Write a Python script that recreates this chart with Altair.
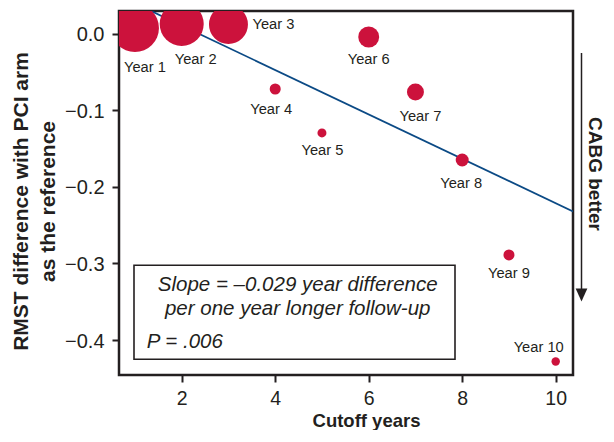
import altair as alt
import pandas as pd

# ---------------- data ----------------
years = ["Year 1", "Year 2", "Year 3", "Year 4", "Year 5",
         "Year 6", "Year 7", "Year 8", "Year 9", "Year 10"]
cutoff_years = [1, 2, 3, 4, 5, 6, 7, 8, 9, 10]
rmst_difference = [0.0074, 0.0127, 0.0120, -0.0722, -0.1296,
                   -0.0043, -0.0761, -0.1649, -0.2889, -0.4282]
weights = [100, 84, 66, 5.3, 3.5, 19, 12.5, 7.3, 5.3, 3.1]   # relative bubble weights
x_ticks = [2, 4, 6, 8, 10]
y_ticks = [0.0, -0.1, -0.2, -0.3, -0.4]
slope = -0.029
intercept = 0.0686
annotation_lines = ["Slope = \u20130.029 year difference", "per one year longer follow-up"]
p_text = "P = .006"
x_title = "Cutoff years"
y_title = ["RMST difference with PCI arm", "as the reference"]
side_label = "CABG better"

# ---------------- layout / style ----------------
FONT = "Liberation Sans"
INK = "#231f20"
RED = "#cc123c"
BLUE = "#0b4a85"
W, H = 454, 364
X_DOM = [0.6588, 10.370]
Y_DOM = [-0.4457, 0.02964]
KX = W / (X_DOM[1] - X_DOM[0])
KY = H / (Y_DOM[1] - Y_DOM[0])

# label nudges in pixels (dx right, dy down) of the label baseline centre from its point
label_nudge = {
    "Year 1": (10, 43.7), "Year 2": (14, 40.3), "Year 3": (45, 4.8),
    "Year 4": (-4, 25.5), "Year 5": (0.5, 22), "Year 6": (0, 27.3),
    "Year 7": (5, 29), "Year 8": (-1, 28.3), "Year 9": (0, 23),
    "Year 10": (-17, -9.6),
}

df = pd.DataFrame({"label": years, "cutoff": cutoff_years,
                   "rmst": rmst_difference, "weight": weights})
df["lx"] = [c + label_nudge[l][0] / KX for c, l in zip(cutoff_years, years)]
df["ly"] = [r - label_nudge[l][1] / KY for r, l in zip(rmst_difference, years)]

line_df = pd.DataFrame({"cutoff": X_DOM,
                        "rmst": [intercept + slope * x for x in X_DOM]})

xscale = alt.Scale(domain=X_DOM, nice=False, zero=False)
yscale = alt.Scale(domain=Y_DOM, nice=False, zero=False)

x_axis = alt.Axis(values=x_ticks, format="d", title=x_title, grid=False, domain=False,
                  labelFontSize=19.5, labelColor=INK, labelPadding=7.5,
                  tickSize=7, tickWidth=2, tickColor=INK,
                  titleFontSize=18.5, titleFontWeight="bold", titleColor=INK,
                  titleX=247, titleY=51, titleAlign="center", titleBaseline="alphabetic")
y_axis = alt.Axis(values=y_ticks, format=".1f", title=y_title, grid=False, domain=False,
                  labelFontSize=20, labelColor=INK, labelPadding=8, labelOffset=1,
                  tickSize=7, tickWidth=2, tickColor=INK,
                  titleFontSize=21, titleFontWeight="bold", titleColor=INK,
                  titleLineHeight=27, titleAngle=270, titleX=-92, titleY=190,
                  titleAlign="center", titleBaseline="alphabetic")


def xe(field):
    return alt.X(f"{field}:Q", scale=xscale, axis=x_axis)


def ye(field):
    return alt.Y(f"{field}:Q", scale=yscale, axis=y_axis)


one = pd.DataFrame({"k": [0]})

box = alt.Chart(one).mark_rect(fill="white", stroke=INK, strokeWidth=1.6).encode(
    x=alt.value(15), x2=alt.value(336), y=alt.value(254.3), y2=alt.value(348.3))

ann = alt.Chart(one).mark_text(text=annotation_lines, font=FONT, fontSize=20.5,
                               fontStyle="italic", color=INK, align="center",
                               baseline="alphabetic", lineHeight=24).encode(
    x=alt.value(178.7), y=alt.value(280.3))

ptxt = alt.Chart(one).mark_text(text=p_text, font=FONT, fontSize=20.5,
                                fontStyle="italic", color=INK, align="left",
                                baseline="alphabetic").encode(
    x=alt.value(27.7), y=alt.value(337))

reg = alt.Chart(line_df).mark_line(color=BLUE, strokeWidth=1.8, clip=True).encode(
    x=xe("cutoff"), y=ye("rmst"))

pts = alt.Chart(df).mark_circle(color=RED, opacity=1, clip=True).encode(
    x=xe("cutoff"), y=ye("rmst"),
    size=alt.Size("weight:Q", scale=alt.Scale(domain=[0, 100], range=[0, 2304]),
                  legend=None))

labels = alt.Chart(df).mark_text(font=FONT, fontSize=14.7, color=INK, align="center",
                                 baseline="alphabetic").encode(
    x=xe("lx"), y=ye("ly"), text="label:N")

arrow = alt.Chart(one).mark_rule(color=INK, strokeWidth=1.5).encode(
    x=alt.value(462.5), y=alt.value(42), y2=alt.value(280))

head = alt.Chart(one).mark_point(shape="M-0.9,-1L0.9,-1L0,1Z", filled=True, fill=INK,
                                 size=169, opacity=1, strokeWidth=0).encode(
    x=alt.value(462.5), y=alt.value(284))

side = alt.Chart(one).mark_text(text=side_label, font=FONT, fontSize=19, fontWeight="bold",
                                color=INK, angle=90, align="center",
                                baseline="alphabetic").encode(
    x=alt.value(469.5), y=alt.value(163))

chart = alt.layer(box, ann, ptxt, reg, pts, labels, arrow, head, side).properties(
    width=W, height=H,
    padding={"left": 111, "top": 3, "right": 33, "bottom": 55},
    autosize=alt.AutoSizeParams(type="none"),
    background="white",
).configure(font=FONT).configure_view(stroke=INK, strokeWidth=2.5)

chart.save("out.html", embed_options={"renderer": "svg", "actions": False})
